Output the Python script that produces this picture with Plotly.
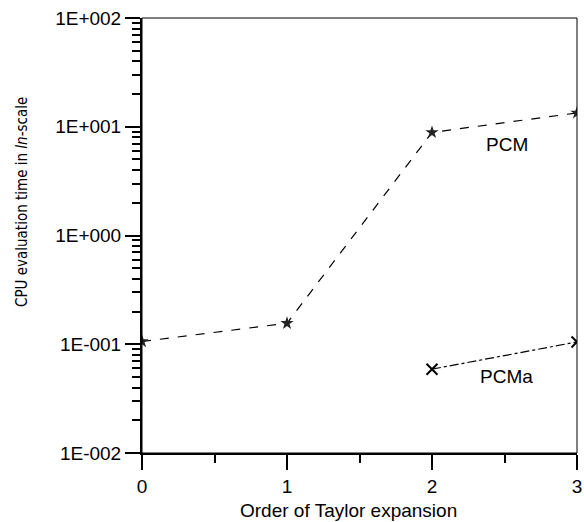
import plotly.graph_objects as go

orders_pcm = [0, 1, 2, 3]
time_pcm = [0.106, 0.156, 8.87, 13.4]
orders_pcma = [2, 3]
time_pcma = [0.059, 0.105]

y_tickvals = [0.01, 0.1, 1, 10, 100]
y_ticktext = ["1E-002", "1E-001", "1E+000", "1E+001", "1E+002"]
x_tickvals = [0, 1, 2, 3]
x_minor = [0.5, 1.5, 2.5]
y_minor = [m * 10.0 ** e for e in range(-2, 2) for m in range(2, 10)]

FONT = "Liberation Sans, Arial, sans-serif"
NARROW = "DejaVu Sans Condensed, Liberation Sans, sans-serif"

fig = go.Figure()
fig.add_trace(go.Scatter(
    x=orders_pcm, y=time_pcm, mode="lines+markers", name="PCM",
    line=dict(color="black", width=1.2, dash="dash"),
    marker=dict(symbol="star", size=10, color="#222222"),
))
fig.add_trace(go.Scatter(
    x=orders_pcma, y=time_pcma, mode="lines+markers", name="PCMa",
    line=dict(color="black", width=1.2, dash="dashdot"),
    marker=dict(symbol="x-thin", size=11, color="black", line=dict(width=2, color="black")),
))

fig.add_annotation(x=2.517, y=0.841, xref="x", yref="y", text="PCM", showarrow=False,
                   font=dict(family=FONT, size=19, color="black"), xanchor="center", yanchor="middle")
fig.add_annotation(x=2.517, y=-1.301, xref="x", yref="y", text="PCMa", showarrow=False,
                   font=dict(family=FONT, size=19, color="black"), xanchor="center", yanchor="middle")

# axis titles
fig.add_annotation(x=0, y=0.577, xref="paper", yref="paper", xshift=-120,
                   text="CPU evaluation time in <i>ln</i>-scale", textangle=-90, showarrow=False,
                   font=dict(family=NARROW, size=15, color="black"), xanchor="center", yanchor="middle")
fig.add_annotation(x=0.474, y=0, xref="paper", yref="paper", yshift=-57,
                   text="Order of Taylor expansion", showarrow=False,
                   font=dict(family=FONT, size=19, color="black"), xanchor="center", yanchor="middle")

fig.add_shape(type="rect", xref="paper", yref="paper", x0=0, y0=0, x1=1, y1=1,
              line=dict(color="black", width=1), layer="above")

fig.update_layout(
    width=584, height=522,
    margin=dict(l=142, r=7, t=18, b=69, autoexpand=False),
    paper_bgcolor="white", plot_bgcolor="white",
    showlegend=False,
    font=dict(family=FONT, size=18, color="black"),
)
fig.update_xaxes(
    range=[0, 3], tickvals=x_tickvals, ticks="outside", ticklen=15, tickwidth=2, tickcolor="black",
    showline=True, linewidth=2, linecolor="black", showgrid=False, zeroline=False,
    minor=dict(tickvals=x_minor, ticks="outside", ticklen=8, tickwidth=2, tickcolor="black", showgrid=False),
    tickfont=dict(size=19), ticklabeloverflow="allow", automargin=False,
)
fig.update_yaxes(
    type="log", range=[-2, 2], tickvals=y_tickvals, ticktext=y_ticktext,
    ticks="outside", ticklen=15, tickwidth=2, tickcolor="black",
    showline=True, linewidth=2, linecolor="black", showgrid=False, zeroline=False,
    minor=dict(tickvals=y_minor, ticks="outside", ticklen=8, tickwidth=2, tickcolor="black", showgrid=False),
    tickfont=dict(size=19), ticklabeloverflow="allow", automargin=False,
)

fig.write_html("out.html", config={"displayModeBar": False},
               post_script="document.body.style.margin='0';document.body.style.overflow='hidden';")
